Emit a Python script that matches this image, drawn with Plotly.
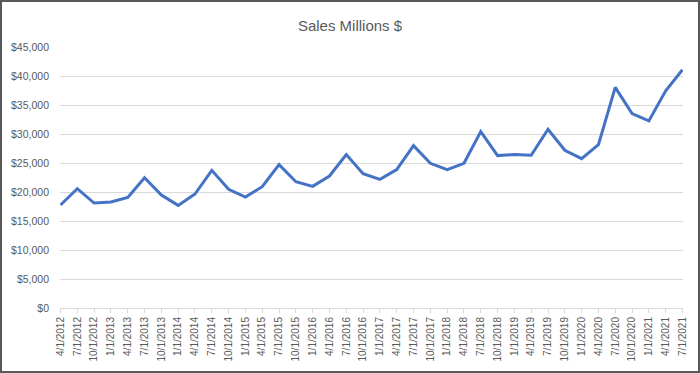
import plotly.graph_objects as go

dates = ["4/1/2012", "7/1/2012", "10/1/2012",
         "1/1/2013", "4/1/2013", "7/1/2013", "10/1/2013",
         "1/1/2014", "4/1/2014", "7/1/2014", "10/1/2014",
         "1/1/2015", "4/1/2015", "7/1/2015", "10/1/2015",
         "1/1/2016", "4/1/2016", "7/1/2016", "10/1/2016",
         "1/1/2017", "4/1/2017", "7/1/2017", "10/1/2017",
         "1/1/2018", "4/1/2018", "7/1/2018", "10/1/2018",
         "1/1/2019", "4/1/2019", "7/1/2019", "10/1/2019",
         "1/1/2020", "4/1/2020", "7/1/2020", "10/1/2020",
         "1/1/2021", "4/1/2021", "7/1/2021"]

sales = [17750, 20570, 18090,
         18270, 19070, 22470, 19475,
         17690, 19650, 23740, 20455,
         19130, 20915, 24720, 21780,
         20975, 22760, 26450, 23160,
         22180, 23855, 28000, 24950,
         23855, 24950, 30420, 26275,
         26450, 26330, 30825, 27195,
         25755, 28175, 38030, 33535,
         32265, 37450, 41080]

y_ticks = [0, 5000, 10000, 15000, 20000, 25000, 30000, 35000, 40000, 45000]
y_labels = ["$" + f"{v:,}" for v in y_ticks]

W, H = 700, 373
L, R, T, B = 60, 17, 47, 65
pw, ph = W - L - R, H - T - B

fig = go.Figure()
fig.add_trace(go.Scatter(
    x=list(range(len(dates))), y=sales, mode="lines",
    line=dict(color="#4472C4", width=3),
    hoverinfo="skip",
))

font_family = "Liberation Sans, Arial, sans-serif"

fig.update_layout(
    width=W, height=H,
    margin=dict(l=L, r=R, t=T, b=B, pad=0),
    paper_bgcolor="white", plot_bgcolor="white",
    showlegend=False,
    title=dict(text="Sales Millions $", x=0.5, xanchor="center",
               y=1 - 26 / H, yanchor="middle",
               font=dict(family=font_family, size=15, color="#595959")),
    xaxis=dict(
        range=[-0.03, len(dates) - 1 + 0.03],
        tickmode="array", tickvals=list(range(len(dates))), ticktext=dates,
        tickangle=-90, ticks="outside", ticklen=4, tickcolor="#d9d9d9",
        tickfont=dict(family=font_family, size=10, color="#595959"),
        showgrid=False, zeroline=False,
        showline=True, linecolor="#d9d9d9", linewidth=1,
        fixedrange=True,
    ),
    yaxis=dict(
        range=[0, 45000],
        tickmode="array", tickvals=y_ticks, ticktext=y_labels,
        tickfont=dict(family=font_family, size=10.5, color="#595959"),
        showgrid=True, gridcolor="#d9d9d9", gridwidth=1,
        zeroline=False, showline=False, ticks="",
        ticklabelstandoff=10,
        fixedrange=True,
    ),
)

# outer chart border
fig.add_shape(type="rect", xref="paper", yref="paper",
              x0=(1 - L) / pw, x1=(W - 1 - L) / pw,
              y0=(T + ph - (H - 1)) / ph, y1=(T + ph - 1) / ph,
              line=dict(color="#595959", width=2), fillcolor="rgba(0,0,0,0)",
              layer="above")

fig.write_html("out.html", config={"displayModeBar": False},
               post_script="document.body.style.margin='0';")
